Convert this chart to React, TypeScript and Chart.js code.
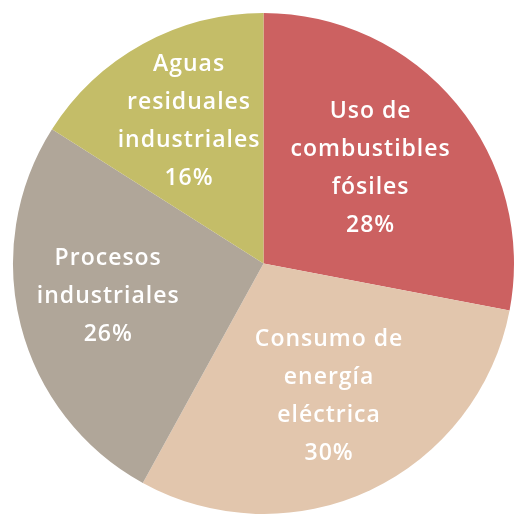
import React, { useEffect, useRef } from "react";
import { Chart, registerables } from "chart.js";

Chart.register(...registerables);

const categories: string[][] = [
  ["Uso de", "combustibles", "fósiles"],
  ["Consumo de", "energía", "eléctrica"],
  ["Procesos", "industriales"],
  ["Aguas", "residuales", "industriales"],
];
const values: number[] = [28, 30, 26, 16];
const colors: string[] = ["#CC6161", "#E2C6AD", "#B0A699", "#C4BD68"];

const labelPlugin = {
  id: "sliceLabels",
  afterDatasetsDraw(chart: any, _args: any, opts: any) {
    const ctx = chart.ctx;
    const meta = chart.getDatasetMeta(0);
    const data = chart.data.datasets[0].data as number[];
    const total = data.reduce((a, b) => a + b, 0);
    const factors: number[] = opts.radiusFactors || [];
    ctx.save();
    ctx.fillStyle = "#FFFFFF";
    ctx.font = opts.font;
    ctx.textAlign = "center";
    ctx.textBaseline = "alphabetic";
    (ctx as any).letterSpacing = opts.letterSpacing || "0px";
    meta.data.forEach((arc: any, i: number) => {
      const p = arc.getProps(["x", "y", "startAngle", "endAngle", "outerRadius"], true);
      const mid = (p.startAngle + p.endAngle) / 2;
      const r = p.outerRadius * (factors[i] ?? 0.6);
      const cx = p.x + Math.cos(mid) * r;
      const cy = p.y + Math.sin(mid) * r;
      const lines = [...(chart.data.labels[i] as string[]), Math.round((data[i] / total) * 100) + "%"];
      const lh = opts.lineHeight;
      lines.forEach((line: string, j: number) => {
        const y = cy + (j - (lines.length - 1) / 2) * lh;
        ctx.fillText(line, cx, y);
      });
    });
    ctx.restore();
  },
};

export default function App() {
  const ref = useRef<HTMLCanvasElement>(null);
  useEffect(() => {
    if (!ref.current) return;
    const chart = new Chart(ref.current, {
      type: "pie",
      data: {
        labels: categories as any,
        datasets: [
          {
            data: values,
            backgroundColor: colors,
            borderWidth: 0,
          },
        ],
      },
      options: {
        responsive: false,
        animation: false,
        layout: { padding: { left: 13, top: 13, right: 0, bottom: 0 } },
        plugins: {
          legend: { display: false },
          tooltip: { enabled: false },
          sliceLabels: {
            font: "600 23px 'Open Sans'",
            letterSpacing: "1px",
            lineHeight: 38,
            radiusFactors: [0.555, 0.615, 0.64, 0.617],
          },
        } as any,
      },
      plugins: [labelPlugin],
    });
    return () => chart.destroy();
  }, []);
  return (
    <div style={{ position: "absolute", left: 0, top: 0, width: 514, height: 514, background: "#fff" }}>
      <canvas ref={ref} width={514} height={514} />
    </div>
  );
}
